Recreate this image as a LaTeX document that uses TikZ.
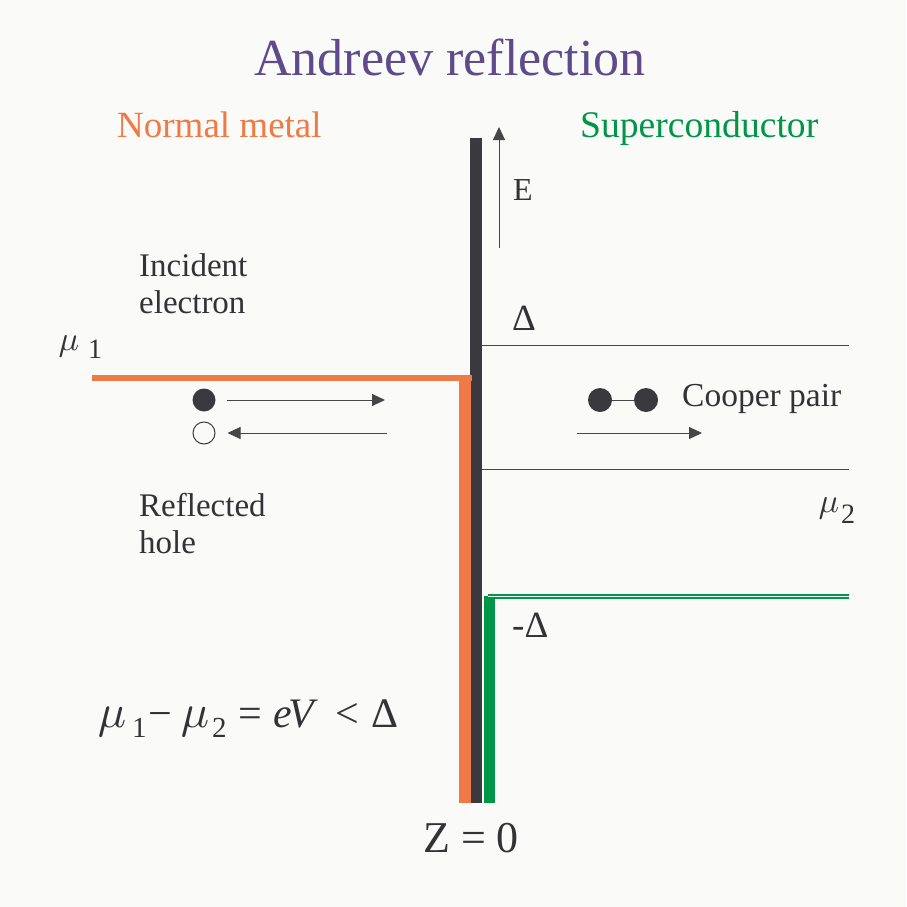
\documentclass[tikz,border=0pt]{standalone}
\usepackage{amsmath}
\usepackage{fontspec}
\setmainfont{Liberation Serif}
\usetikzlibrary{arrows.meta}
\definecolor{bgc}{RGB}{250,250,248}
\definecolor{titlec}{RGB}{95,75,139}
\definecolor{orangec}{RGB}{240,122,69}
\definecolor{greenc}{RGB}{0,150,72}
\definecolor{barc}{RGB}{58,58,62}
\definecolor{txtc}{RGB}{51,51,55}
\definecolor{linec}{RGB}{70,70,72}
\tikzset{
  lbl/.style={inner sep=0pt, anchor=base west, text=txtc},
  fs/.style={font=\fontsize{#1}{#1}\selectfont},
  tip/.style={-{Triangle[length=13pt,width=12pt]}},
  thinarrow/.style={draw=linec, line width=1pt, tip},
  level/.style={draw=linec, line width=0.9pt},
  dot/.style={circle, minimum size=23pt, inner sep=0pt},
}
\begin{document}
\begin{tikzpicture}[x=1pt,y=-1pt]
\useasboundingbox (0,0) rectangle (906,907);
\fill[bgc] (0,0) rectangle (906,907);

% titles
\node[inner sep=0pt, anchor=base, text=titlec, fs=52] (title) at (450,75) {Andreev reflection};
\node[lbl, text=orangec, fs=37] (nm) at (117,137) {Normal metal};
\node[lbl, text=greenc, fs=37.6] (sc) at (580,137) {Superconductor};

% interface bars
\fill[barc] (470,138) rectangle (482,803);
\fill[orangec] (459,375) rectangle (471,803);
\fill[orangec] (92,375) rectangle (472,381);
\fill[greenc] (484,596) rectangle (495,803);
\draw[greenc, double=bgc, double distance=1.2pt, line width=1.8pt] (488,596.5) -- (849,596.5);

% energy axis
\coordinate (e0) at (499,248);
\coordinate (e1) at (499,127);
\draw[thinarrow] (e0) -- (e1);
\node[lbl, fs=32] (E) at (513,200) {E};

% levels
\coordinate (d0) at (482,345);
\coordinate (d1) at (849,345);
\draw[level] (d0) -- (d1);
\coordinate (m0) at (482,469);
\coordinate (m1) at (849,469);
\draw[level] (m0) -- (m1);
\node[lbl, fs=37] (delta) at (512,330) {Δ};
\node[lbl, fs=37] (mdelta) at (512,637) {-Δ};

% chemical potentials
\node[lbl, scale=3.4] (mu1) at (58,350) {\(\mu\)};
\node[lbl, fs=28] (mu1s) at (88,358) {1};
\node[lbl, scale=3.4] (mu2) at (818,512) {\(\mu\)};
\node[lbl, fs=28] (mu2s) at (841,523) {2};

% labels
\node[lbl, fs=33] (inc1) at (139,276) {Incident};
\node[lbl, fs=33] (inc2) at (139,313) {electron};
\node[lbl, fs=33] (ref1) at (139,516) {Reflected};
\node[lbl, fs=33] (ref2) at (139,553) {hole};

% electron and hole
\node[dot, fill=barc] (el) at (204,400) {};
\node[dot, draw=barc, line width=1pt, minimum size=22pt] (ho) at (204,433) {};
\coordinate (ea) at (385,400);
\coordinate (hb) at (387,433);
\draw[thinarrow] ([xshift=11pt]el.east) -- (ea);
\draw[thinarrow] (hb) -- ([xshift=12pt]ho.east);

% cooper pair
\node[dot, fill=barc, minimum size=24pt] (c1) at (600,400) {};
\node[dot, fill=barc, minimum size=24pt] (c2) at (646,400) {};
\draw[draw=linec, line width=1pt] (c1) -- (c2);
\node[lbl, fs=33.5] (cp) at (682,406) {Cooper pair};
\coordinate (ca) at (577,433);
\coordinate (cb) at (702,433);
\draw[thinarrow] (ca) -- (cb);

% formula
\node[lbl, scale=4.7] (f1) at (97,727) {\(\mu\)};
\node[lbl, fs=29] (f2) at (132,737) {1};
\node[lbl, fs=42] (f3) at (148,727) {−};
\node[lbl, scale=4.7] (f4) at (180,727) {\(\mu\)};
\node[lbl, fs=29] (f5) at (212,737) {2};
\node[lbl, fs=42] (f6) at (238,727) {=};
\node[lbl, fs=42] (f7) at (273,727) {\itshape e};
\node[lbl, fs=42] (f8) at (288,727) {\itshape V};
\node[lbl, fs=42] (f9) at (335,727) {<};
\node[lbl, fs=42] (f10) at (371,727) {Δ};

% Z = 0
\node[inner sep=0pt, anchor=base, text=txtc, fs=44] (z) at (471,852) {Z = 0};
\end{tikzpicture}
\end{document}
